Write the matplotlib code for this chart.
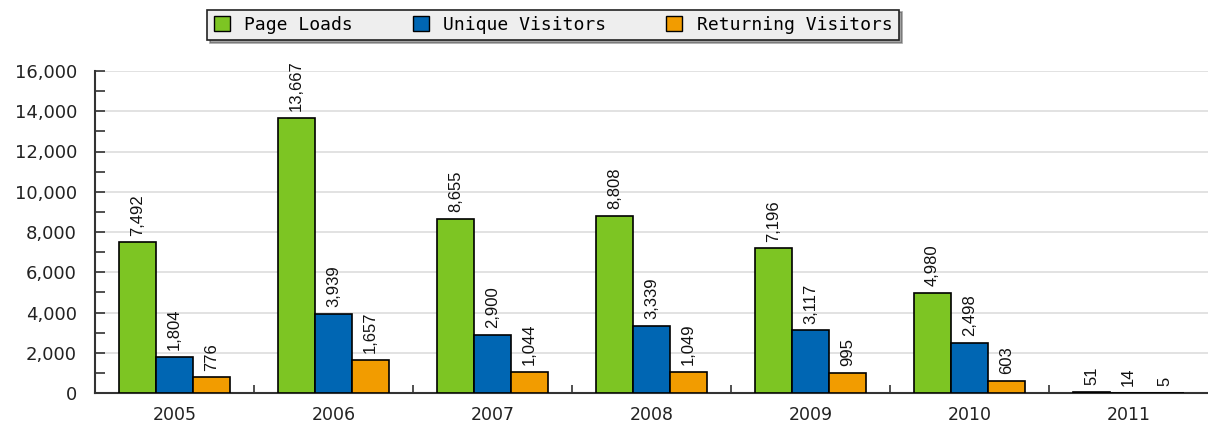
import numpy as np
import matplotlib
matplotlib.use('Agg')
import matplotlib.pyplot as plt
from matplotlib.ticker import FuncFormatter, MultipleLocator
from matplotlib.patches import Patch

years = ['2005', '2006', '2007', '2008', '2009', '2010', '2011']
page_loads = [7492, 13667, 8655, 8808, 7196, 4980, 51]
unique_visitors = [1804, 3939, 2900, 3339, 3117, 2498, 14]
returning_visitors = [776, 1657, 1044, 1049, 995, 603, 5]

series = [('Page Loads', page_loads, '#7dc523'),
          ('Unique Visitors', unique_visitors, '#0066b3'),
          ('Returning Visitors', returning_visitors, '#f29c00')]

fig = plt.figure(figsize=(12.08, 4.26), dpi=100)
ax = fig.add_axes([95/1208, 33/426, 1 - 95/1208, (393-71)/426])

x = np.arange(len(years))
w = 0.232
for i, (name, vals, col) in enumerate(series):
    pos = x + (i - 1) * w
    ax.bar(pos, vals, width=w, color=col, edgecolor='black', linewidth=1.2, zorder=3)
    for p, v in zip(pos, vals):
        ax.text(p, v + 330, f'{v:,}', rotation=90, ha='center', va='bottom',
                fontsize=12, family='Liberation Sans', color='#111111')

ax.set_xlim(-0.5, len(years) - 0.5)
ax.set_ylim(0, 16000)
ax.yaxis.set_major_locator(MultipleLocator(2000))
ax.yaxis.set_minor_locator(MultipleLocator(1000))
ax.yaxis.set_major_formatter(FuncFormatter(lambda v, p: f'{int(v):,}'))
ax.grid(axis='y', color='#dddddd', linewidth=1.2, zorder=0)

ax.set_xticks(x)
ax.set_xticklabels(years)
ax.set_xticks(x[:-1] + 0.5, minor=True)
ax.tick_params(axis='x', which='major', length=0, pad=9, labelsize=12.5, labelcolor='#222222')
ax.tick_params(axis='x', which='minor', direction='in', length=6, width=1.2, color='#333333')
ax.tick_params(axis='y', which='both', direction='in', length=7, width=1.2,
               color='#333333', labelsize=13, labelcolor='#222222', pad=13)

for s in ['top', 'right']:
    ax.spines[s].set_visible(False)
for s in ['left', 'bottom']:
    ax.spines[s].set_color('#333333')
    ax.spines[s].set_linewidth(1.5)

handles = [Patch(facecolor=c, edgecolor='black', label=n) for n, _, c in series]
leg = fig.legend(handles=handles, loc='center', bbox_to_anchor=(553/1208, 1 - 25/426),
                 ncol=3, frameon=True, fancybox=False, shadow=True,
                 prop={'family': 'DejaVu Sans Mono', 'size': 13},
                 handlelength=0.9, handleheight=0.9, columnspacing=3.3,
                 borderpad=0.35, handletextpad=0.8, borderaxespad=0)
leg.get_frame().set_facecolor('#eeeeee')
leg.get_frame().set_edgecolor('#222222')
leg.get_frame().set_linewidth(1.2)

fig.savefig('out.png', dpi=100)
